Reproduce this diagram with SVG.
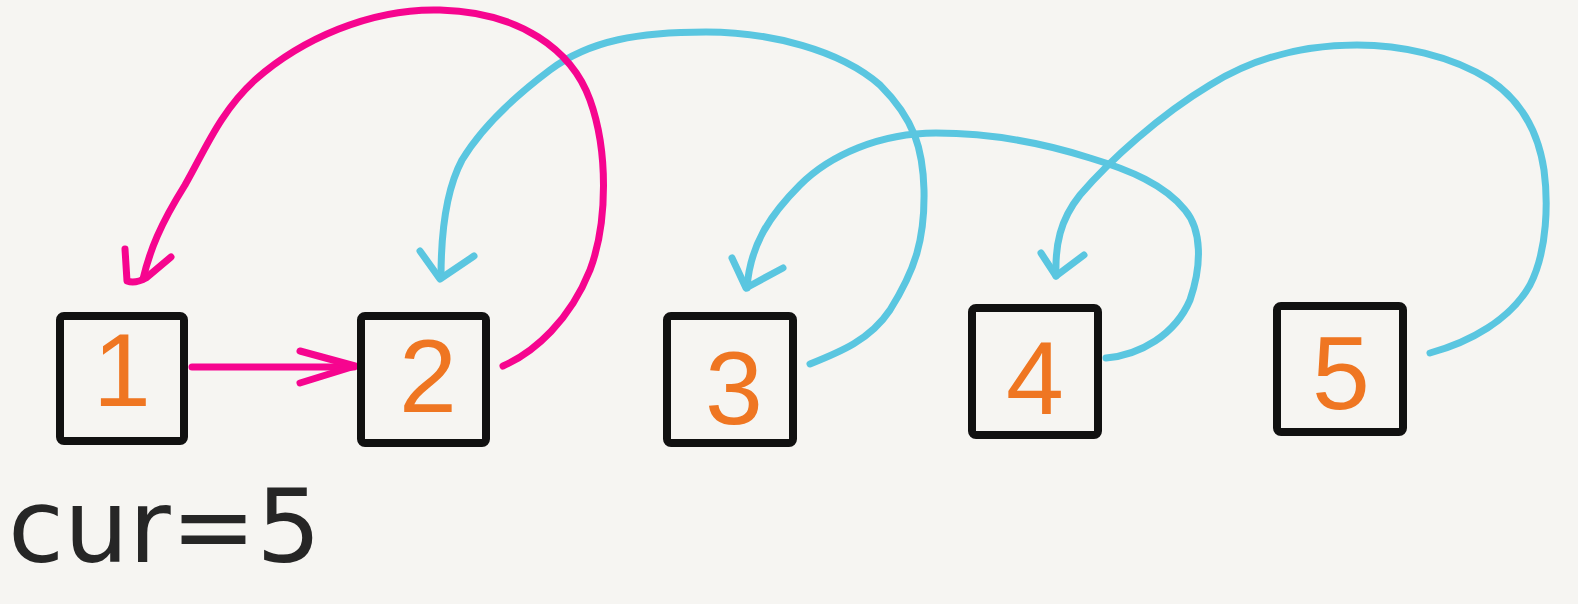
<svg xmlns="http://www.w3.org/2000/svg" width="1578" height="604" viewBox="0 0 1578 604">
<style>
.box{fill:none;stroke:#111;stroke-width:8;stroke-linejoin:round}
.digit{font-family:"Liberation Sans",Arial,sans-serif;font-size:104px;fill:#ef7622;text-anchor:middle}
.pink{fill:none;stroke:#f6058f;stroke-width:7;stroke-linecap:round;stroke-linejoin:round}
.blue{fill:none;stroke:#5ac6e0;stroke-width:7;stroke-linecap:round;stroke-linejoin:round}
.label{font-family:"DejaVu Sans",sans-serif;font-size:102px;fill:#262626}
</style>
<rect width="1578" height="604" fill="#f6f5f2"/>
<g id="connectors">
  <path class="blue" d="M810,364 C840,352 870,340 890,310 C915,270 925,240 924,190 C923,150 915,120 880,85 C840,50 770,32 706,32 C640,32 590,40 550,70 C510,100 480,130 462,160 C446,190 441,230 441,277"/>
  <path class="blue" d="M420,251 L440,279 L474,256"/>
  <path class="blue" d="M1106,358 C1140,355 1175,335 1190,300 C1202,265 1202,230 1185,210 C1165,185 1130,170 1090,158 C1040,142 990,133 936,133 C880,133 830,155 800,185 C770,215 750,245 747,288"/>
  <path class="blue" d="M732,258 L746,288 L783,268"/>
  <path class="blue" d="M1430,353 C1470,342 1510,320 1530,285 C1548,250 1548,200 1544,170 C1538,130 1520,100 1490,80 C1450,55 1400,45 1357,45 C1300,45 1250,60 1210,85 C1160,115 1110,160 1080,195 C1060,220 1055,245 1056,276"/>
  <path class="blue" d="M1041,253 L1056,276 L1084,255"/>
  <path class="pink" d="M503,366 C535,352 570,320 590,270 C608,222 608,150 590,100 C572,50 520,12 440,10 C370,8 300,40 255,80 C220,112 205,150 185,185 C160,225 150,250 143,279"/>
  <path class="pink" d="M125,249 L127,281 Q135,284 146,278 L171,257"/>
  <path class="pink" d="M192,367 L354,367"/>
  <path class="pink" d="M300,351 L355,366 L300,383"/>
</g>
<g id="node1"><rect class="box" x="60" y="316" width="124" height="125" rx="4"/><text class="digit" x="122" y="406">1</text></g>
<g id="node2"><rect class="box" x="361" y="316" width="125" height="127" rx="4"/><text class="digit" x="428" y="412">2</text></g>
<g id="node3"><rect class="box" x="667" y="316" width="126" height="127" rx="4"/><text class="digit" x="734" y="424">3</text></g>
<g id="node4"><rect class="box" x="972" y="308" width="126" height="127" rx="4"/><text class="digit" x="1035" y="414">4</text></g>
<g id="node5"><rect class="box" x="1277" y="306" width="126" height="126" rx="4"/><text class="digit" x="1341" y="409">5</text></g>
<g id="label"><text class="label" x="8" y="562">cur=5</text></g>
</svg>
